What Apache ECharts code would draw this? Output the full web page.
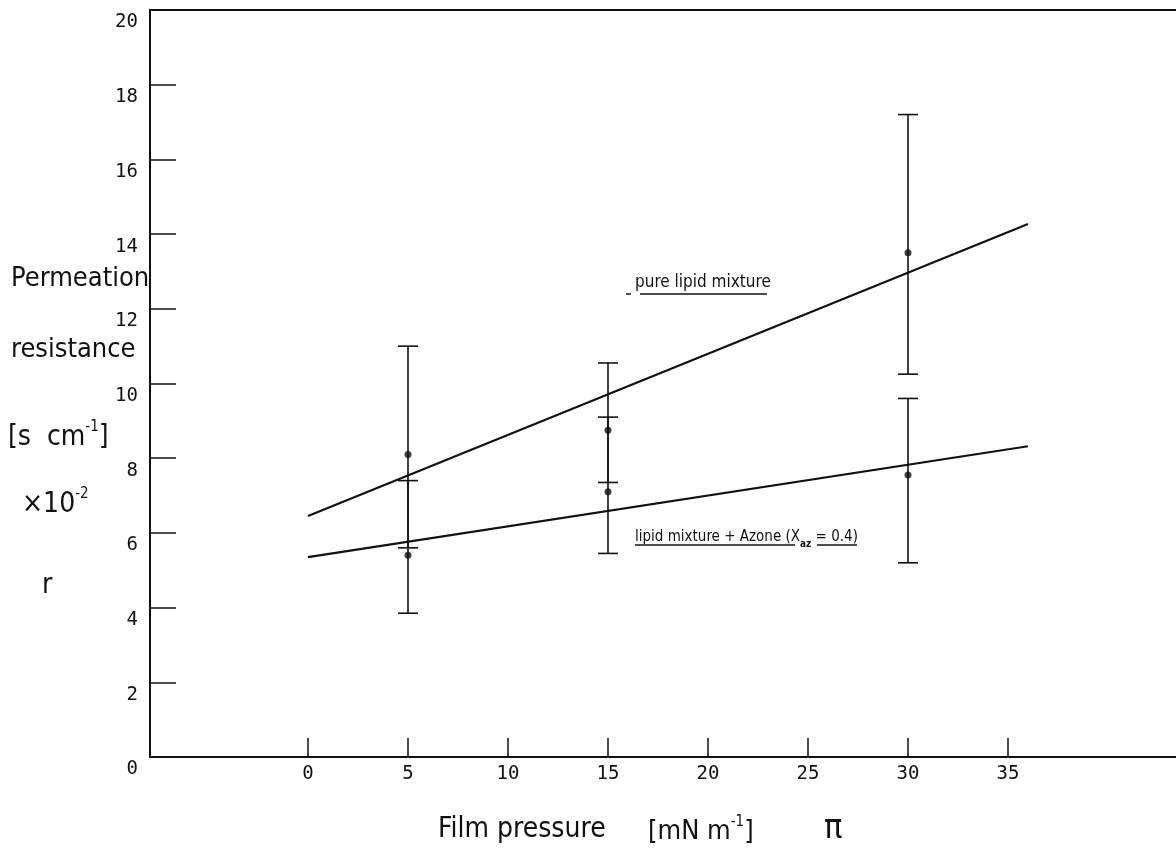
<!DOCTYPE html>
<html>
<head>
<meta charset="utf-8">
<title>Permeation resistance vs film pressure</title>
<script src="https://cdn.jsdelivr.net/npm/echarts@6/dist/echarts.min.js"></script>
<style>
  html, body { margin: 0; padding: 0; background: #fff; }
  #chart { width: 1176px; height: 851px; }
</style>
</head>
<body>
<div id="chart"></div>
<script>
// measured points (film pressure, mN/m)
const pressures = [5, 15, 30]
// pure lipid mixture
const pureMean = [8.1, 8.75, 13.5]
const pureHigh = [11.0, 10.55, 17.2]
const pureLow = [5.6, 7.35, 10.25]
// lipid mixture + Azone
const azoneMean = [5.4, 7.1, 7.55]
const azoneHigh = [7.4, 9.1, 9.6]
const azoneLow = [3.85, 5.45, 5.2]
// regression lines
const fitX = [0, 36]
const pureFit = [6.45, 14.27]
const azoneFit = [5.35, 8.32]
// axis ticks
const xTicks = [0, 5, 10, 15, 20, 25, 30, 35]

const INK = '#111'
const labelFont = '"DejaVu Sans Mono", "Liberation Mono", monospace'
const titleFont = '"Liberation Sans Narrow", "DejaVu Sans Condensed", "Noto Sans", sans-serif'

const chart = echarts.init(document.getElementById('chart'), null, { renderer: 'canvas' })

const pairs = (xs, ys) => xs.map((x, i) => [x, ys[i]])
const bars = (lo, hi) => pressures.map((x, i) => [x, lo[i], hi[i]])

const errorBar = (params, api) => {
  const x = api.value(0)
  const lo = api.coord([x, api.value(1)])
  const hi = api.coord([x, api.value(2)])
  const w = 10
  const st = { stroke: INK, lineWidth: 1.6 }
  return {
    type: 'group',
    children: [
      { type: 'line', shape: { x1: lo[0], y1: lo[1], x2: hi[0], y2: hi[1] }, style: st },
      { type: 'line', shape: { x1: lo[0] - w, y1: lo[1], x2: lo[0] + w, y2: lo[1] }, style: st },
      { type: 'line', shape: { x1: hi[0] - w, y1: hi[1], x2: hi[0] + w, y2: hi[1] }, style: st }
    ]
  }
}

const txt = (x, y, text, size, rich) => ({
  type: 'text',
  x: x,
  y: y,
  style: {
    text: text,
    fill: INK,
    fontSize: size,
    fontFamily: titleFont,
    verticalAlign: 'middle',
    align: 'left',
    rich: rich
  }
})

const seg = (x1, y1, x2, y2) => ({
  type: 'line',
  shape: { x1, y1, x2, y2 },
  style: { stroke: INK, lineWidth: 1.5 }
})

const supRich = (size) => ({
  t: { fontSize: size, fontFamily: titleFont, fill: INK, lineHeight: size + 4, verticalAlign: 'bottom' },
  sup: { fontSize: Math.round(size * 0.55), fontFamily: titleFont, fill: INK, lineHeight: Math.round(size * 0.55) + 2, verticalAlign: 'top' },
  sub: { fontSize: Math.round(size * 0.65), fontFamily: titleFont, fontWeight: 'bold', fill: INK, lineHeight: Math.round(size * 0.65) + 2, verticalAlign: 'bottom', padding: [0, 0, -5, 0] }
})

const option = {
  backgroundColor: '#fff',
  animation: false,
  grid: {
    left: 150,
    right: 0,
    top: 10,
    bottom: 94
  },
  xAxis: [
    {
      type: 'value',
      min: -7.9,
      max: 43.4,
      axisLine: { show: true, onZero: false, lineStyle: { color: INK, width: 2 } },
      axisTick: {
        show: true,
        inside: true,
        length: 19,
        customValues: xTicks,
        lineStyle: { color: INK, width: 1.5 }
      },
      axisLabel: {
        customValues: xTicks,
        margin: 8,
        color: INK,
        fontSize: 19,
        fontFamily: labelFont
      },
      splitLine: { show: false }
    },
    {
      type: 'value',
      position: 'top',
      min: -7.9,
      max: 43.4,
      axisLine: { show: true, onZero: false, lineStyle: { color: INK, width: 2 } },
      axisTick: { show: false },
      axisLabel: { show: false },
      splitLine: { show: false }
    }
  ],
  yAxis: {
    type: 'value',
    min: 0,
    max: 20,
    interval: 2,
    axisLine: { show: true, onZero: false, lineStyle: { color: INK, width: 2 } },
    axisTick: {
      show: true,
      inside: true,
      length: 26,
      lineStyle: { color: INK, width: 1.5 }
    },
    axisLabel: {
      margin: 12,
      color: INK,
      fontSize: 19,
      fontFamily: labelFont,
      verticalAlign: 'top',
      padding: [3, 0, 0, 0]
    },
    splitLine: { show: false }
  },
  series: [
    {
      name: 'pure fit',
      type: 'line',
      data: pairs(fitX, pureFit),
      showSymbol: false,
      lineStyle: { color: INK, width: 2.2 }
    },
    {
      name: 'azone fit',
      type: 'line',
      data: pairs(fitX, azoneFit),
      showSymbol: false,
      lineStyle: { color: INK, width: 2.2 }
    },
    {
      name: 'pure error',
      type: 'custom',
      renderItem: errorBar,
      data: bars(pureLow, pureHigh),
      z: 3
    },
    {
      name: 'azone error',
      type: 'custom',
      renderItem: errorBar,
      data: bars(azoneLow, azoneHigh),
      z: 3
    },
    {
      name: 'pure lipid mixture',
      type: 'scatter',
      data: pairs(pressures, pureMean),
      symbolSize: 7,
      itemStyle: { color: INK },
      z: 4
    },
    {
      name: 'lipid mixture + Azone',
      type: 'scatter',
      data: pairs(pressures, azoneMean),
      symbolSize: 7,
      itemStyle: { color: INK },
      z: 4
    }
  ],
  graphic: [
    // y axis title
    txt(11, 279, 'Permeation', 27),
    txt(11, 350, 'resistance', 27),
    txt(8, 436, '{t|[s  cm}{sup|-1}{t|]}', 28, supRich(28)),
    txt(22, 503, '{t|×10}{sup|-2}', 28, supRich(28)),
    txt(42, 586, 'r', 28),
    // x axis title
    txt(438, 830, 'Film pressure', 28),
    txt(648, 830, '{t|[mN m}{sup|-1}{t|]}', 27, supRich(27)),
    txt(824, 829, 'π', 34),
    // annotations
    txt(635, 283, 'pure lipid mixture', 17),
    seg(626, 294, 631, 294),
    seg(640, 294, 767, 294),
    txt(635, 535, '{t|lipid mixture + Azone (X}{sub|az}{t| = 0.4)}', 15, supRich(15)),
    seg(635, 545, 795, 545),
    seg(817, 545, 857, 545)
  ]
}

chart.setOption(option)
</script>
</body>
</html>
